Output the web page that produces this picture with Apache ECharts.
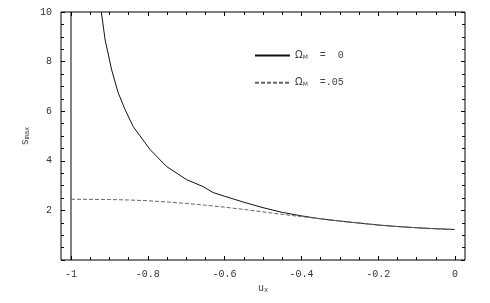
<!DOCTYPE html>
<html>
<head>
<meta charset="utf-8">
<script src="https://cdn.jsdelivr.net/npm/echarts@6/dist/echarts.min.js"></script>
<style>
  html, body { margin: 0; padding: 0; background: #fff; }
  #chart { width: 490px; height: 303px; }
</style>
</head>
<body>
<div id="chart"></div>
<script>
  // values
  const solidName = 'M0'
  const dashName = 'M05'
  const solidData = [
    [-0.921, 10], [-0.911, 8.87], [-0.894, 7.66], [-0.877, 6.74], [-0.859, 6.06],
    [-0.838, 5.38], [-0.794, 4.45], [-0.751, 3.77], [-0.699, 3.24], [-0.656, 2.96],
    [-0.63, 2.72], [-0.6, 2.57], [-0.55, 2.33], [-0.5, 2.11], [-0.45, 1.92],
    [-0.4, 1.78], [-0.35, 1.66], [-0.3, 1.57], [-0.25, 1.49], [-0.2, 1.41],
    [-0.15, 1.35], [-0.1, 1.30], [-0.05, 1.26], [0, 1.23]
  ]
  const dashData = [
    [-1, 2.45], [-0.9, 2.44], [-0.85, 2.42], [-0.8, 2.39], [-0.75, 2.34],
    [-0.7, 2.28], [-0.65, 2.21], [-0.6, 2.13], [-0.55, 2.04], [-0.5, 1.94],
    [-0.45, 1.84], [-0.4, 1.75], [-0.35, 1.66], [-0.3, 1.57], [-0.25, 1.49],
    [-0.2, 1.41], [-0.15, 1.35], [-0.1, 1.30], [-0.05, 1.26], [0, 1.23]
  ]
  const vertLine = [[-1, 0], [-1, 10]]

  const xMin = -1.026
  const xMax = 0.026
  const font = 'Liberation Mono'

  const tickLine = { color: '#000', width: 1 }
  const labelStyle = { color: '#333', fontFamily: font, fontSize: 10, margin: 9 }

  // frame is the plotting grid; ticks of x live on an inner grid spanning -1..0
  function tickX (pos, labels) {
    return {
      type: 'value', gridIndex: 1, position: pos, min: -1, max: 0, interval: 0.2,
      axisLine: { show: false, onZero: false },
      axisTick: { show: true, inside: true, length: 4, lineStyle: tickLine },
      minorTick: { show: true, splitNumber: 4, length: 3, lineStyle: tickLine },
      axisLabel: Object.assign({ show: labels, formatter: v => String(v) }, labelStyle),
      splitLine: { show: false }
    }
  }
  function tickY (pos, labels) {
    return {
      type: 'value', gridIndex: 0, position: pos, min: 0, max: 10, interval: 2,
      axisLine: { show: false, onZero: false },
      axisTick: { show: true, inside: true, length: 4, lineStyle: tickLine },
      minorTick: { show: true, splitNumber: 4, length: 3, lineStyle: tickLine },
      axisLabel: Object.assign({ show: labels, showMinLabel: false }, labelStyle),
      splitLine: { show: false }
    }
  }

  const chart = echarts.init(document.getElementById('chart'))
  const option = {
    animation: false,
    grid: [
      { left: 61, top: 12, right: 25, bottom: 43, show: true,
        borderColor: '#000', borderWidth: 1, backgroundColor: 'transparent' },
      { left: 71, top: 12, right: 35, bottom: 43, show: false }
    ],
    legend: {
      orient: 'vertical', left: 249, top: 45,
      itemWidth: 35, itemHeight: 14, itemGap: 16,
      data: [solidName, dashName],
      itemStyle: { opacity: 0 },
      formatter: function (n) {
        return n === solidName ? '{o|Ω}{s|M}{t|  =  0}' : '{o|Ω}{s|M}{t|  =.05}'
      },
      textStyle: {
        color: '#444',
        rich: {
          o: { fontFamily: 'DejaVu Sans', fontSize: 10, color: '#444' },
          s: { fontFamily: 'DejaVu Sans', fontSize: 6, color: '#444', padding: [4, 0, 0, 0] },
          t: { fontFamily: font, fontSize: 10, color: '#444' }
        }
      }
    },
    xAxis: [
      { type: 'value', gridIndex: 0, min: xMin, max: xMax, show: false },
      Object.assign(tickX('bottom', true), {
        name: '{u|u}{x|x}', nameLocation: 'middle', nameGap: 22, nameMoveOverlap: false,
        nameTextStyle: { rich: {
          u: { fontFamily: font, fontSize: 10, color: '#444' },
          x: { fontFamily: font, fontSize: 7, color: '#444', padding: [5, 0, 0, 0] }
        } }
      }),
      tickX('top', false)
    ],
    yAxis: [
      Object.assign(tickY('left', true), {
        name: '{s|s}{m|max}', nameLocation: 'middle', nameGap: 30, nameRotate: 90,
        nameMoveOverlap: false,
        nameTextStyle: { rich: {
          s: { fontFamily: font, fontSize: 10, color: '#444' },
          m: { fontFamily: font, fontSize: 7, color: '#444', padding: [5, 0, 0, 0] }
        } }
      }),
      tickY('right', false),
      { type: 'value', gridIndex: 1, min: 0, max: 10, show: false }
    ],
    series: [
      { name: 'vline', type: 'line', data: vertLine, symbol: 'none',
        lineStyle: { color: '#000', width: 1 }, silent: true },
      { name: solidName, type: 'line', data: solidData, symbol: 'none',
        lineStyle: { color: '#111', width: 1 } },
      { name: dashName, type: 'line', data: dashData, symbol: 'none',
        lineStyle: { color: '#666', width: 1, type: [4, 2] } },
      // empty series, only so the inner tick grid has its axes bound
      { name: 'ticks', type: 'line', data: [], xAxisIndex: 1, yAxisIndex: 2,
        symbol: 'none', silent: true }
    ]
  }
  chart.setOption(option)
</script>
</body>
</html>
